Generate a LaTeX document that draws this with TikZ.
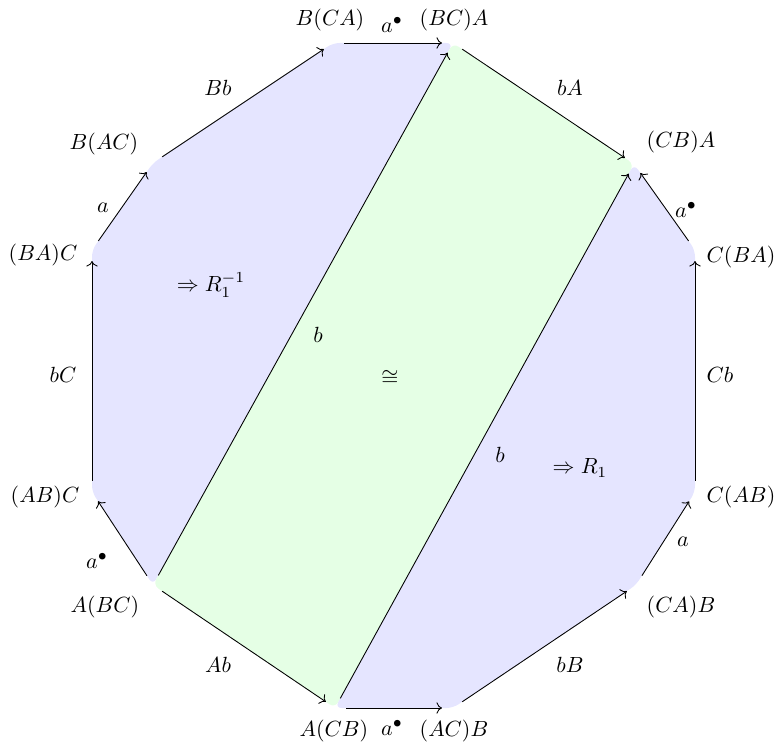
\documentclass[tikz,border=0pt]{standalone}
\usepackage{amsmath, amssymb}
\usepackage{tikz}
\usetikzlibrary{positioning, arrows.meta, calc}
\usepackage{xcolor}
\colorlet{caraAzul}{blue!10}
\colorlet{caraVerde}{green!10}

\begin{document}
\begin{tikzpicture}[x=0.016cm, y=-0.016cm,
    vertice/.style={circle, inner sep=0pt, minimum size=0.34cm},
    flecha/.style={->},
    etiq/.style={inner sep=1pt}]
  \useasboundingbox (0,0) rectangle (778,744);
  % Vertices del dodecagono (nombre, x, y, texto, x/y del texto)
  \foreach \n/\x/\y/\txt/\tx/\ty in {%
    b-ca/333/43/{B(CA)}/330/20,
    bc-a/453/43/{(BC)A}/454/20,
    cb-a/634/164/{(CB)A}/681/142,
    c-ba/695/250/{C(BA)}/741/257,
    c-ab/695/492/{C(AB)}/741/497,
    ca-b/636/585/{(CA)B}/681/607,
    ac-b/453/708/{(AC)B}/454/731,
    a-cb/335/708/{A(CB)}/334/731,
    a-bc/153/585/{A(BC)}/105/607,
    ab-c/92/492/{(AB)C}/45/497,
    ba-c/92/250/{(BA)C}/43/255,
    b-ac/153/163/{B(AC)}/104/144%
  } {
    \node[vertice] (\n) at (\x,\y) {};
    \node[etiq] (t-\n) at (\tx,\ty) {$\txt$};
  }
  % Caras: izquierda, centro, derecha
  \fill[caraAzul, rounded corners=3pt] (a-bc.center) -- (ab-c.center) -- (ba-c.center)
    -- (b-ac.center) -- (b-ca.center) -- (bc-a.center) -- cycle;
  \fill[caraVerde, rounded corners=3pt] (a-bc.center) -- (a-cb.center) -- (cb-a.center)
    -- (bc-a.center) -- cycle;
  \fill[caraAzul, rounded corners=3pt] (a-cb.center) -- (ac-b.center) -- (ca-b.center)
    -- (c-ab.center) -- (c-ba.center) -- (cb-a.center) -- cycle;
  % Aristas (origen, destino, etiqueta, x/y de la etiqueta)
  \foreach \a/\b/\lab/\lx/\ly in {%
    b-ca/bc-a/{a^\bullet}/392/25,
    bc-a/cb-a/{bA}/570/88,
    c-ba/cb-a/{a^\bullet}/686/210,
    c-ab/c-ba/{Cb}/720/375,
    ca-b/c-ab/{a}/683/542,
    ac-b/ca-b/{bB}/570/665,
    a-cb/ac-b/{a^\bullet}/392/728,
    a-bc/a-cb/{Ab}/218/665,
    a-bc/ab-c/{a^\bullet}/97/561,
    ab-c/ba-c/{bC}/63/375,
    ba-c/b-ac/{a}/103/208,
    b-ac/b-ca/{Bb}/218/88,
    a-bc/bc-a/{b}/318/335,
    a-cb/cb-a/{b}/500/455%
  } {
    \draw[flecha] (\a) -- (\b);
    \node[etiq] (l-\a-\b) at (\lx,\ly) {$\lab$};
  }
  % Celdas
  \node[etiq] (r-izq) at (211,285) {$\Rightarrow R_1^{-1}$};
  \node[etiq] (r-centro) at (390,378) {$\cong$};
  \node[etiq] (r-der) at (580,468) {$\Rightarrow R_1$};
\end{tikzpicture}
\end{document}
